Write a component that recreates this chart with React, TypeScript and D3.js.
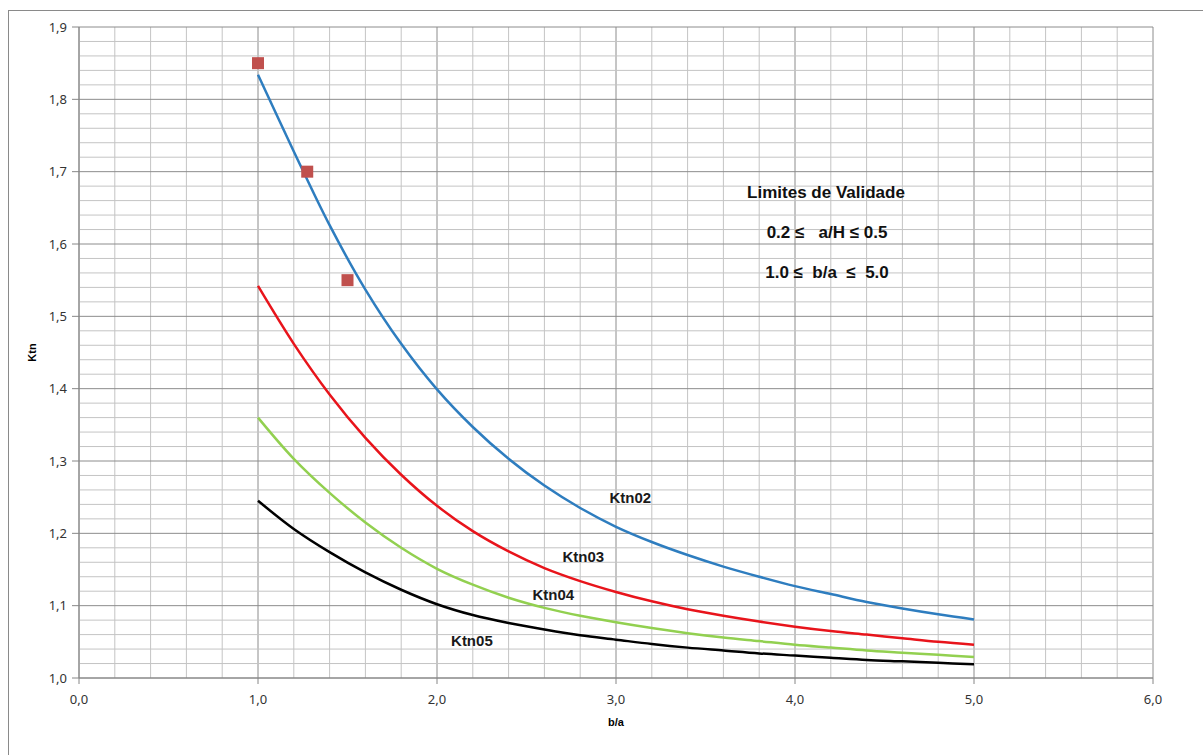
import React from "react";
import * as d3 from "d3";

// b/a values shared by all curves
const ratios = [1.0, 1.2, 1.4, 1.6, 1.8, 2.0, 2.2, 2.4, 2.6, 2.8, 3.0, 3.2, 3.4, 3.6, 3.8, 4.0, 4.2, 4.4, 4.6, 4.8, 5.0];

const ktn02 = [1.834, 1.728, 1.626, 1.537, 1.462, 1.399, 1.347, 1.303, 1.266, 1.235, 1.209, 1.188, 1.17, 1.154, 1.14, 1.127, 1.116, 1.105, 1.096, 1.088, 1.081];
const ktn03 = [1.542, 1.462, 1.392, 1.332, 1.281, 1.238, 1.203, 1.175, 1.152, 1.134, 1.119, 1.106, 1.095, 1.086, 1.078, 1.071, 1.065, 1.06, 1.055, 1.05, 1.046];
const ktn04 = [1.36, 1.303, 1.256, 1.215, 1.18, 1.151, 1.129, 1.111, 1.097, 1.086, 1.077, 1.069, 1.062, 1.056, 1.051, 1.046, 1.042, 1.038, 1.035, 1.032, 1.029];
const ktn05 = [1.245, 1.206, 1.174, 1.146, 1.122, 1.102, 1.087, 1.076, 1.067, 1.059, 1.053, 1.047, 1.042, 1.038, 1.034, 1.031, 1.028, 1.025, 1.023, 1.021, 1.019];

// measured points (red squares)
const pointsX = [1.0, 1.275, 1.5];
const pointsY = [1.85, 1.70, 1.55];

const xTicks = [0, 1, 2, 3, 4, 5, 6];
const yTicks = [1.0, 1.1, 1.2, 1.3, 1.4, 1.5, 1.6, 1.7, 1.8, 1.9];

const series = [
  { name: "Ktn02", values: ktn02, color: "#2e7dbf", label: [3.08, 1.2425] },
  { name: "Ktn03", values: ktn03, color: "#e8141b", label: [2.817, 1.161] },
  { name: "Ktn04", values: ktn04, color: "#92d050", label: [2.65, 1.108] },
  { name: "Ktn05", values: ktn05, color: "#000000", label: [2.195, 1.0437] },
];

const W = 1203;
const H = 755;
const margin = { left: 79, top: 27, right: 50, bottom: 77 };

export default function App() {
  const x = d3.scaleLinear().domain([0, 6]).range([margin.left, W - margin.right]);
  const y = d3.scaleLinear().domain([1.0, 1.9]).range([H - margin.bottom, margin.top]);

  const xGrid = d3.range(0, 31).map((i) => i * 0.2);
  const yGrid = d3.range(0, 46).map((i) => 1 + i * 0.02);

  const line = d3
    .line<number>()
    .x((d, i) => x(ratios[i]))
    .y((d) => y(d))
    .curve(d3.curveCatmullRom.alpha(0.5));

  const font = "'Liberation Sans', Arial, sans-serif";
  const tickFont = "'Noto Sans', 'Open Sans', sans-serif";

  return (
    <svg width={W} height={H} style={{ position: "absolute", left: 0, top: 0 }}>
      <rect x={0} y={0} width={W} height={H} fill="#fff" />
      <rect x={8.5} y={10.5} width={W} height={H} fill="none" stroke="#8a8a8a" />

      {/* grid */}
      <g>
        {xGrid.map((v, i) => (
          <line key={"gx" + i} x1={x(v)} x2={x(v)} y1={y(1.0)} y2={y(1.9)}
            stroke={i % 5 === 0 ? "#8c8c8c" : "#c4c4c4"} strokeWidth={1} />
        ))}
        {yGrid.map((v, i) => (
          <line key={"gy" + i} x1={x(0)} x2={x(6)} y1={y(v)} y2={y(v)}
            stroke={i % 5 === 0 ? "#8c8c8c" : "#c4c4c4"} strokeWidth={1} />
        ))}
      </g>

      {/* axes */}
      <line x1={x(0)} x2={x(0)} y1={y(1.0)} y2={y(1.9)} stroke="#868686" />
      <line x1={x(0)} x2={x(6)} y1={y(1.0)} y2={y(1.0)} stroke="#868686" />
      {yTicks.map((t) => (
        <g key={"yt" + t}>
          <line x1={x(0) - 7} x2={x(0)} y1={y(t)} y2={y(t)} stroke="#868686" />
          <text x={x(0) - 12} y={y(t)} dy="0.35em" textAnchor="end" fontSize={13}
            fontFamily={tickFont} fill="#333">{t.toFixed(1).replace(".", ",")}</text>
        </g>
      ))}
      {xTicks.map((t) => (
        <g key={"xt" + t}>
          <line x1={x(t)} x2={x(t)} y1={y(1.0)} y2={y(1.0) + 6} stroke="#868686" />
          <text x={x(t)} y={y(1.0) + 26} textAnchor="middle" fontSize={13}
            fontFamily={tickFont} fill="#333">{t.toFixed(1).replace(".", ",")}</text>
        </g>
      ))}

      <text x={(x(0) + x(6)) / 2} y={726} textAnchor="middle" fontSize={11}
        fontWeight="bold" fontFamily={font}>b/a</text>
      <text transform={`translate(36, ${(y(1.0) + y(1.9)) / 2}) rotate(-90)`} textAnchor="middle"
        fontSize={11} fontWeight="bold" fontFamily={font}>Ktn</text>

      {/* curves */}
      {series.map((s) => (
        <path key={s.name} d={line(s.values) || ""} fill="none" stroke={s.color} strokeWidth={2.5} />
      ))}

      {/* points */}
      {pointsX.map((px, i) => (
        <rect key={"p" + i} x={x(px) - 6} y={y(pointsY[i]) - 6} width={12} height={12} fill="#c0504d" />
      ))}

      {/* curve labels */}
      {series.map((s) => (
        <text key={"l" + s.name} x={x(s.label[0])} y={y(s.label[1])} textAnchor="middle"
          fontSize={15} fontWeight="bold" fontFamily={font} fill="#1a1a1a">{s.name}</text>
      ))}

      {/* validity notes */}
      <g fontFamily={font} fontWeight="bold" fontSize={17} fill="#111" textAnchor="middle">
        <text x={826} y={198}>Limites de Validade</text>
        <text x={827} y={238} xmlSpace="preserve">0.2 ≤   a/H ≤ 0.5</text>
        <text x={827} y={278} xmlSpace="preserve">1.0 ≤  b/a  ≤  5.0</text>
      </g>
    </svg>
  );
}
